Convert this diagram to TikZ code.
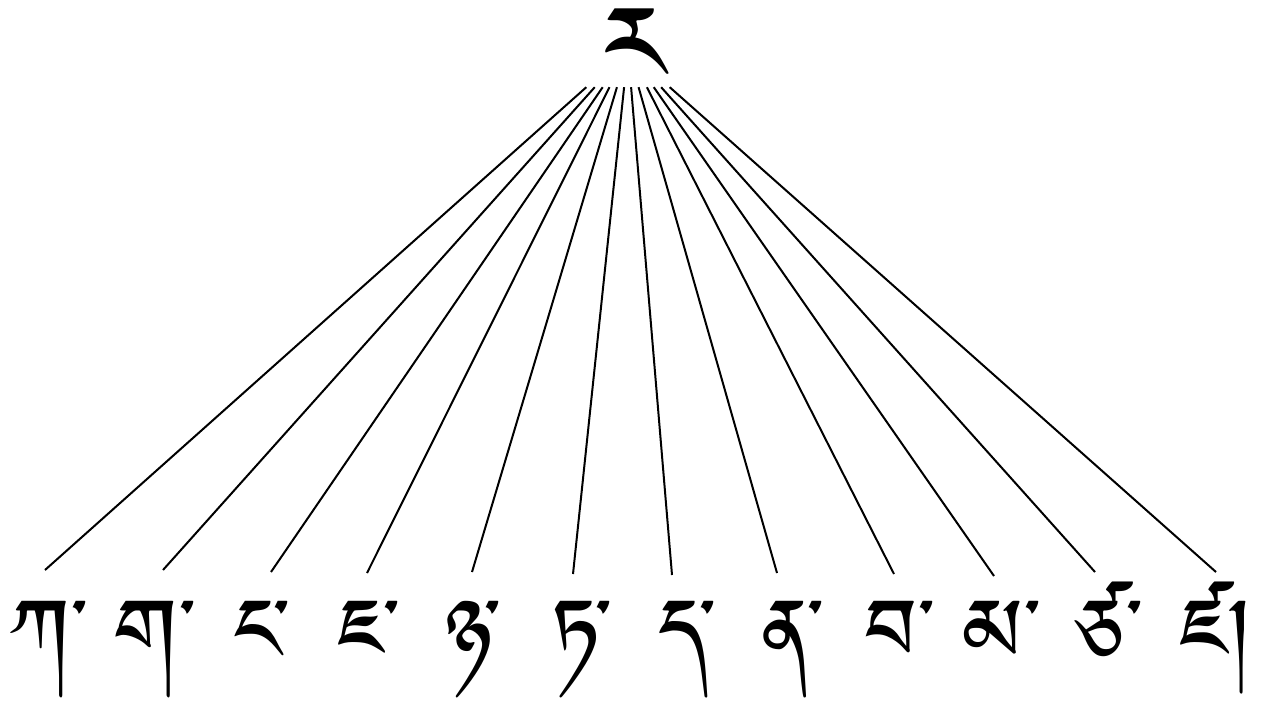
\documentclass[tikz,border=0pt]{standalone}
\usepackage{fontspec}
\newfontfamily\tib[Script=Tibetan]{Jomolhari}
\begin{document}
\begin{tikzpicture}[x=1pt,y=-1pt,
  root/.style={anchor=base, inner sep=0pt, minimum width=100pt,
    text height=74pt, text depth=0pt, font=\tib\fontsize{135}{135}\selectfont},
  leaf/.style={anchor=base, inner sep=0pt, font=\tib\fontsize{110}{110}\selectfont},
  edge/.style={line width=2pt}]
\useasboundingbox (0,0) rectangle (1268,702);
\node[root] (r) at (628,87) {\kern13pt\raisebox{-21pt}{ར}};
\node[leaf] (k1) at (49.5,682) {ཀ་};
\node[leaf] (k2) at (155,682) {ག་};
\node[leaf] (k3) at (262,682) {ང་};
\node[leaf] (k4) at (368,682) {ཇ་};
\node[leaf] (k5) at (473.5,682) {ཉ་};
\node[leaf] (k6) at (581,682) {ཏ་};
\node[leaf] (k7) at (687,682) {ད་};
\node[leaf] (k8) at (792.5,682) {ན་};
\node[leaf] (k9) at (899.5,682) {བ་};
\node[leaf] (k10) at (1002,682) {མ་};
\node[leaf] (k11) at (1109,682) {ཙ་};
\node[leaf] (k12) at (1216,682) {ཛ།};
\coordinate (e1) at (45,570);
\coordinate (e2) at (163,570);
\coordinate (e3) at (271,572);
\coordinate (e4) at (367,573);
\coordinate (e5) at (472,572);
\coordinate (e6) at (573,574);
\coordinate (e7) at (672,575);
\coordinate (e8) at (777,573);
\coordinate (e9) at (894,574);
\coordinate (e10) at (994,576);
\coordinate (e11) at (1095,572);
\coordinate (e12) at (1216,572);
\foreach \i in {1,...,12} \draw[edge] (r) -- (e\i);
\end{tikzpicture}
\end{document}
